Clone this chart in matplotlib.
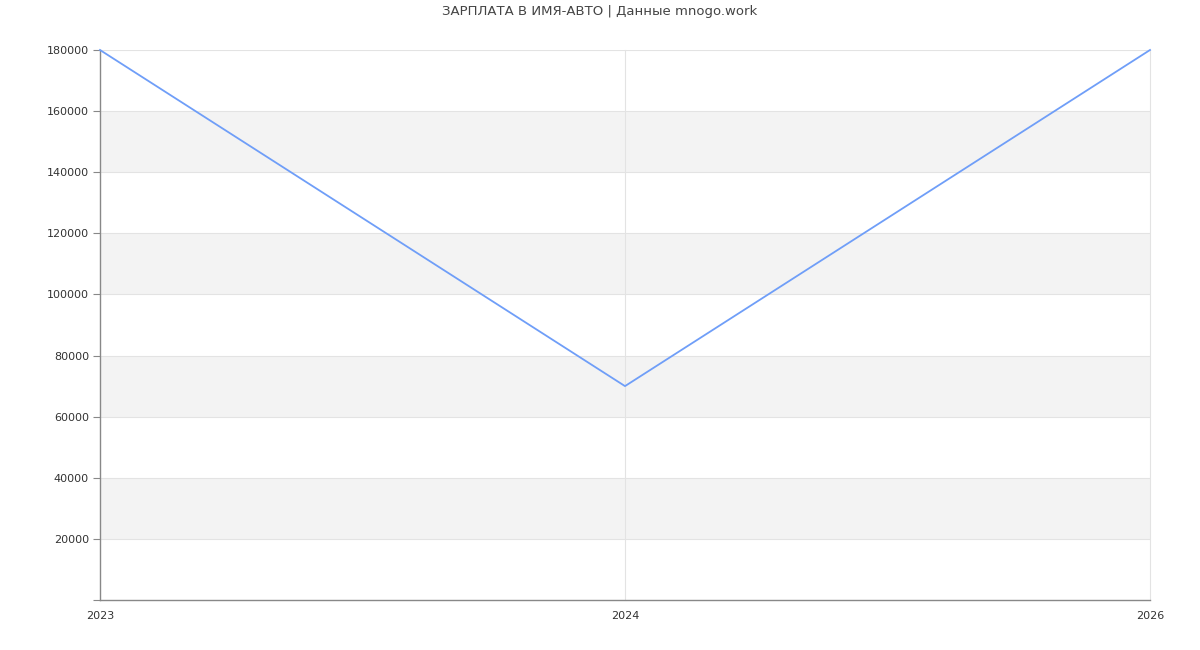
import matplotlib
matplotlib.use("Agg")
import matplotlib.pyplot as plt

years = ["2023", "2024", "2026"]
salary = [180000, 70000, 180000]
y_ticks = [0, 20000, 40000, 60000, 80000, 100000, 120000, 140000, 160000, 180000]

fig = plt.figure(figsize=(12, 6.5), dpi=100)
ax = fig.add_axes([100 / 1200, 50 / 650, 1050 / 1200, 550 / 650])

x = list(range(len(years)))
ax.set_xlim(x[0], x[-1])
ax.set_ylim(0, 180000)

# alternating bands
for i in range(1, len(y_ticks) - 1, 2):
    ax.axhspan(y_ticks[i], y_ticks[i + 1], color="#f3f3f3", zorder=0, lw=0)

for t in y_ticks[1:]:
    ax.axhline(t, color="#e3e3e3", lw=0.8, zorder=1)
for xi in x[1:]:
    ax.axvline(xi, color="#e3e3e3", lw=0.8, zorder=1, clip_on=False)

ax.plot(x, salary, color="#6f9ef8", lw=1.3, zorder=3, clip_on=False)

ax.set_yticks(y_ticks)
ax.set_yticklabels([""] + [str(t) for t in y_ticks[1:]])
ax.set_xticks(x)
ax.set_xticklabels(years)
ax.tick_params(axis="y", length=5, color="#888888", labelsize=8, labelcolor="#333333", pad=3)
ax.tick_params(axis="x", length=0, labelsize=8, labelcolor="#333333", pad=8)
for lbl in ax.get_xticklabels():
    lbl.set_x(lbl.get_position()[0])

for s in ["top", "right"]:
    ax.spines[s].set_visible(False)
for s in ["left", "bottom"]:
    ax.spines[s].set_color("#888888")
    ax.spines[s].set_linewidth(1)

fig.text(0.5, 1 - 12 / 650, "ЗАРПЛАТА В ИМЯ-АВТО | Данные mnogo.work",
         ha="center", va="center", fontsize=9.5, color="#444444")

fig.savefig("out.png", dpi=100)
